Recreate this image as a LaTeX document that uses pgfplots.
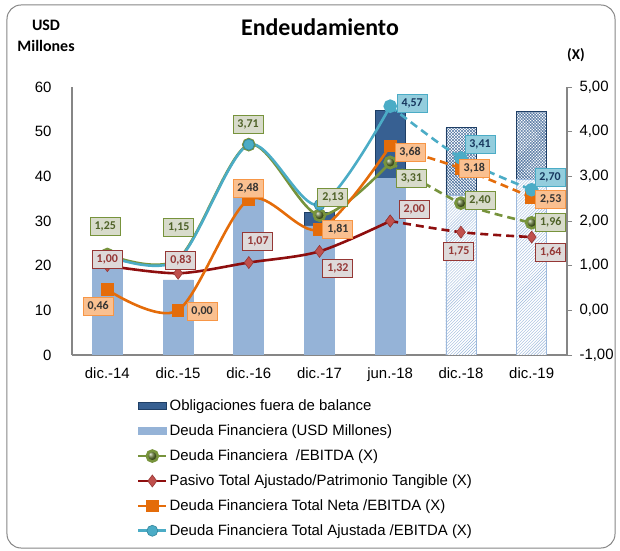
\documentclass[border=0pt]{standalone}
\usepackage{fontspec}
\setmainfont{Liberation Sans}
\newfontfamily\calibri{Carlito}
\usepackage{pgfplots}
\pgfplotsset{compat=1.18}
\usetikzlibrary{patterns}

\definecolor{barlight}{HTML}{95B3D7}
\definecolor{bardark}{HTML}{376092}
\definecolor{bardarkline}{HTML}{1F3F66}
\definecolor{hatchline}{HTML}{9DB9DC}
\definecolor{lgreen}{HTML}{77933C}
\definecolor{dgreen}{HTML}{4F6228}
\definecolor{pgreen}{HTML}{D8DBCB}
\definecolor{lred}{HTML}{8E0E0E}
\definecolor{mred}{HTML}{C0504D}
\definecolor{dred}{HTML}{953735}
\definecolor{pred}{HTML}{DEDADA}
\definecolor{lorange}{HTML}{E46C0A}
\definecolor{porange}{HTML}{FAC090}
\definecolor{borange}{HTML}{F79646}
\definecolor{lcyan}{HTML}{4BACC6}
\definecolor{pcyan}{HTML}{93CDDD}
\definecolor{bcyan}{HTML}{31859C}
\definecolor{dcyan}{HTML}{17375E}
\definecolor{axgray}{HTML}{868686}

\tikzset{
  lab/.style={draw, line width=1bp, font=\calibri\bfseries\fontsize{12}{14}\selectfont,
    inner xsep=2bp, inner ysep=2bp, minimum width=30bp, minimum height=18bp},
  glab/.style={lab, fill=pgreen, draw=lgreen, text=dgreen},
  rlab/.style={lab, fill=pred, draw=dred, text=dred},
  olab/.style={lab, fill=porange, draw=borange, text=black!80},
  clab/.style={lab, fill=pcyan, draw=lcyan, text=dcyan},
  lw/.style={line width=2.6bp},
  dsh/.style={dash pattern=on 8bp off 5bp},
}
\pgfplotsset{
  frame/.style={scale only axis, width=495bp, height=268bp, xmin=-0.5, xmax=6.5},
}

\begin{document}
\begin{tikzpicture}
\useasboundingbox (-72bp,-196bp) rectangle (548bp,355bp);
\draw[axgray, line width=1bp, rounded corners=14bp] (-65bp,-193bp) rectangle (543bp,350bp);

\begin{axis}[
  frame, ymin=0, ymax=60,
  axis x line*=bottom, axis y line*=left,
  axis line style={axgray, line width=1.1bp},
  xtick={0,...,6},
  xticklabels={dic.-14,dic.-15,dic.-16,dic.-17,jun.-18,dic.-18,dic.-19},
  ytick={0,10,...,60},
  major tick length=0pt,
  tick style={draw=none},
  ticklabel style={font=\fontsize{15}{18}\selectfont},
  /pgf/number format/assume math mode=true,
  yticklabel style={xshift=-17bp},
  xticklabel style={yshift=-9bp},
]
% Obligaciones fuera de balance (stack total)
\addplot[ybar, bar width=30bp, bar shift=0pt, fill=bardark, draw=bardarkline, line width=0.8bp]
  coordinates {(3,32.0) (4,54.7)};
% Deuda Financiera
\addplot[ybar, bar width=30bp, bar shift=0pt, fill=barlight, draw=barlight, line width=0.8bp]
  coordinates {(0,20.7) (1,16.8) (2,35.4) (3,28.9) (4,39.5)};
% projections: obligaciones (stack total)
\addplot[ybar, bar width=30bp, bar shift=0pt, fill=white, draw=bardarkline, line width=0.8bp,
  postaction={pattern=crosshatch, pattern color=bardark}]
  coordinates {(5,50.9) (6,54.6)};
% projections: deuda financiera
\addplot[ybar, bar width=30bp, bar shift=0pt, fill=white, draw=hatchline, line width=0.8bp,
  postaction={pattern=north east lines, pattern color=hatchline}]
  coordinates {(5,35.8) (6,39.4)};
\end{axis}

\begin{axis}[
  frame, ymin=-1, ymax=5,
  axis x line=none, axis y line*=right,
  axis line style={axgray, line width=1.1bp},
  ytick={-1,0,...,5},
  ytick style={axgray, line width=0.8bp},
  tick align=outside, major tick length=5bp,
  ticklabel style={font=\fontsize{15}{18}\selectfont},
  yticklabel style={xshift=4bp, /pgf/number format/.cd, fixed, fixed zerofill, precision=2, use comma, assume math mode=true},
  clip=false,
  legend style={at={(0.131,-0.16)}, anchor=north west, draw=none, fill=none,
    inner sep=0pt, row sep=8.6bp, font=\fontsize{15}{18}\selectfont},
  legend cell align=left,
  legend image code/.code={\draw[mark repeat=2, mark phase=2, #1]
    plot coordinates {(0bp,0bp) (14bp,0bp) (28bp,0bp)};},
]
\addlegendimage{legend image code/.code={\draw[fill=bardark, draw=bardarkline, line width=0.8bp] (0bp,-3bp) rectangle (28bp,3.5bp);}}
\addlegendimage{legend image code/.code={\fill[barlight] (0bp,-3.5bp) rectangle (28bp,3.5bp);}}

% Deuda Financiera /EBITDA
\addplot[lgreen, lw, smooth, mark=ball, mark size=5.5bp, mark options={ball color=lgreen!75!black}]
  coordinates {(0,1.25) (1,1.15) (2,3.71) (3,2.13) (4,3.31)};
\addplot[forget plot, lgreen, lw, smooth, dsh, mark=ball, mark size=5.5bp, mark options={solid, ball color=lgreen!75!black}]
  coordinates {(4,3.31) (5,2.40) (6,1.96)};
% Pasivo Total Ajustado/Patrimonio Tangible
\addplot[lred, lw, smooth, mark=diamond*, mark size=6bp, mark options={fill=mred, draw=dred, line width=0.6bp}]
  coordinates {(0,1.00) (1,0.83) (2,1.07) (3,1.32) (4,2.00)};
\addplot[forget plot, lred, lw, smooth, dsh, mark=diamond*, mark size=6bp, mark options={solid, fill=mred, draw=dred, line width=0.6bp}]
  coordinates {(4,2.00) (5,1.75) (6,1.64)};
% Deuda Financiera Total Neta /EBITDA
\addplot[lorange, lw, smooth, mark=square*, mark size=5bp, mark options={fill=lorange, draw=lorange}]
  coordinates {(0,0.46) (1,0.00) (2,2.48) (3,1.81) (4,3.68)};
\addplot[forget plot, lorange, lw, smooth, dsh, mark=square*, mark size=5bp, mark options={solid, fill=lorange, draw=lorange}]
  coordinates {(4,3.68) (5,3.18) (6,2.53)};
% Deuda Financiera Total Ajustada /EBITDA
\addplot[lcyan, lw, smooth, mark=*, mark size=5.5bp, mark options={fill=lcyan, draw=bcyan, line width=0.6bp}]
  coordinates {(0,1.22) (1,1.13) (2,3.71) (3,2.36) (4,4.57)};
\addplot[forget plot, lcyan, lw, smooth, dsh, mark=*, mark size=5.5bp, mark options={solid, fill=lcyan, draw=lcyan}]
  coordinates {(4,4.57) (5,3.41) (6,2.70)};

\legend{Obligaciones fuera de balance, Deuda Financiera (USD Millones),
  Deuda Financiera\ \ /EBITDA (X), Pasivo Total Ajustado/Patrimonio Tangible (X),
  Deuda Financiera Total Neta /EBITDA (X), Deuda Financiera Total Ajustada /EBITDA (X)}
\end{axis}

% data labels, on top of the lines and markers
\begin{axis}[frame, ymin=-1, ymax=5, hide axis, clip=false]
\node[glab] at (axis cs:-0.03,1.875) {1,25};
\node[glab] at (axis cs:1.01,1.864) {1,15};
\node[glab] at (axis cs:1.99,4.168) {3,71};
\node[glab] at (axis cs:3.19,2.523) {2,13};
\node[glab] at (axis cs:4.30,2.960) {3,31};
\node[glab] at (axis cs:5.27,2.456) {2,40};
\node[glab] at (axis cs:6.27,1.964) {1,96};
\node[rlab] at (axis cs:0.00,1.148) {1,00};
\node[rlab] at (axis cs:1.04,1.114) {0,83};
\node[rlab] at (axis cs:2.13,1.550) {1,07};
\node[rlab] at (axis cs:3.26,0.935) {1,32};
\node[rlab] at (axis cs:4.34,2.255) {2,00};
\node[rlab] at (axis cs:4.97,1.327) {1,75};
\node[rlab] at (axis cs:6.27,1.293) {1,64};
\node[olab] at (axis cs:-0.13,0.085) {0,46};
\node[olab] at (axis cs:1.34,-0.027) {0,00};
\node[olab] at (axis cs:1.99,2.736) {2,48};
\node[olab] at (axis cs:3.26,1.808) {1,81};
\node[olab] at (axis cs:4.28,3.541) {3,68};
\node[olab] at (axis cs:5.19,3.183) {3,18};
\node[olab] at (axis cs:6.27,2.490) {2,53};
\node[clab] at (axis cs:4.31,4.626) {4,57};
\node[clab] at (axis cs:5.27,3.720) {3,41};
\node[clab] at (axis cs:6.26,2.982) {2,70};
\end{axis}

\node[font=\calibri\bfseries\fontsize{24}{28}\selectfont] at (248bp,328bp) {Endeudamiento};
\node[font=\calibri\bfseries\fontsize{16}{19}\selectfont] at (-26bp,330bp) {USD};
\node[font=\calibri\bfseries\fontsize{16}{19}\selectfont] at (-26bp,309bp) {Millones};
\node[font=\calibri\bfseries\fontsize{15}{18}\selectfont] at (504bp,300bp) {(X)};
\end{tikzpicture}
\end{document}
